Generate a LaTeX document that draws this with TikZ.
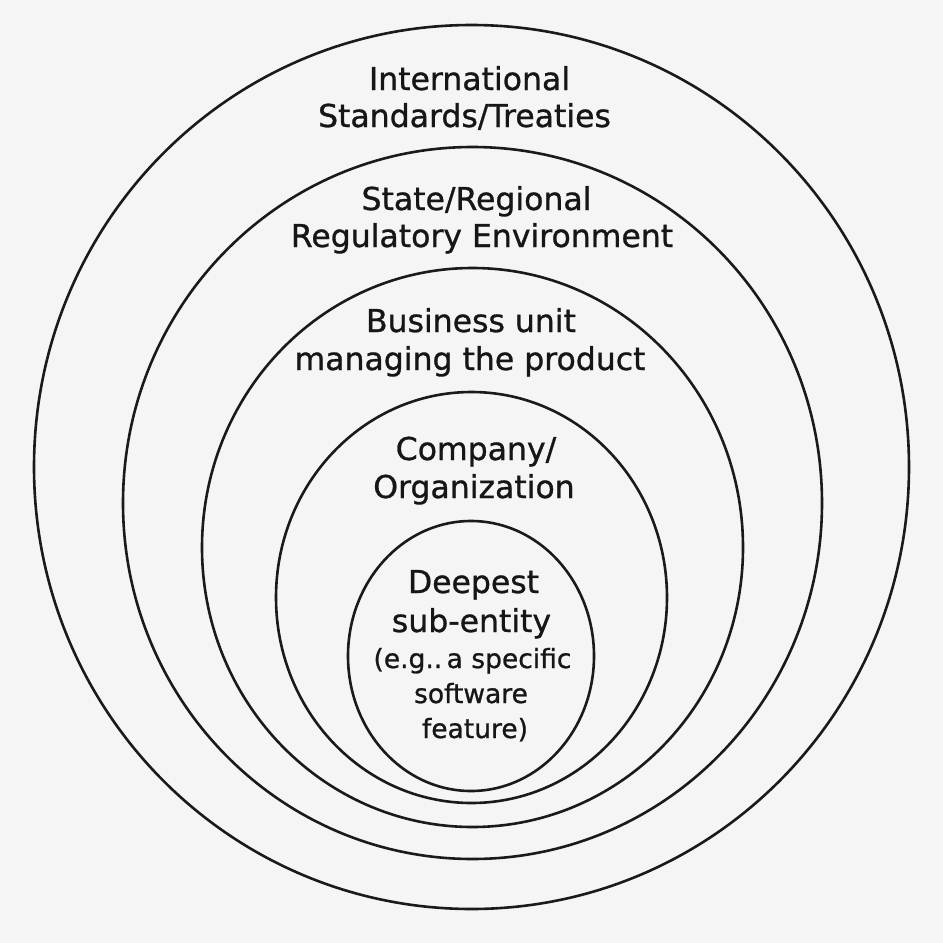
\documentclass[tikz,border=0pt]{standalone}
\usepackage{fontspec}
\setmainfont{DejaVu Sans}[FakeBold=0.9]
\usetikzlibrary{shapes.geometric}
\definecolor{bgcol}{RGB}{245,245,245}
\definecolor{inkcol}{RGB}{26,26,26}
\definecolor{txtcol}{RGB}{22,22,22}
\begin{document}
\begin{tikzpicture}[x=1pt,y=-1pt,
  ring/.style={draw=inkcol, line width=2.6pt, ellipse, inner sep=0pt, outer sep=0pt},
  lbl/.style={anchor=base, inner sep=0pt, text=txtcol, font=\fontsize{31.5}{36}\selectfont},
  small/.style={anchor=base, inner sep=0pt, text=txtcol, font=\fontsize{26.5}{32}\selectfont}]
\fill[bgcol] (0,0) rectangle (943,943);
\useasboundingbox (0,0) rectangle (943,943);
% rings
\node[ring, minimum width=875pt, minimum height=884pt] (r1) at (471.5,467) {};
\node[ring, minimum width=699pt, minimum height=712pt] (r2) at (472.5,503) {};
\node[ring, minimum width=541pt, minimum height=559pt] (r3) at (472.5,547.5) {};
\node[ring, minimum width=391pt, minimum height=411pt] (r4) at (471.5,597.5) {};
\node[ring, minimum width=246pt, minimum height=270pt] (r5) at (471,656) {};
% labels
\node[lbl] (t1a) at (469.5,90) {International};
\node[lbl] (t1b) at (464.5,127) {Standards/Treaties};
\node[lbl] (t2a) at (476.5,210) {State/Regional};
\node[lbl] (t2b) at (482,247) {Regulatory Environment};
\node[lbl] (t3a) at (471,332) {Business unit};
\node[lbl] (t3b) at (470,370) {managing the product};
\node[lbl] (t4a) at (476,460) {Company/};
\node[lbl] (t4b) at (474,498) {Organization};
\node[lbl] (t5a) at (473.5,593) {Deepest};
\node[lbl] (t5b) at (471.5,632) {sub-entity};
\node[small] (t5c) at (472.5,668) {(e.g..\,a specific};
\node[small] (t5d) at (471,703) {software};
\node[small] (t5e) at (475,738) {feature)};
\end{tikzpicture}
\end{document}
